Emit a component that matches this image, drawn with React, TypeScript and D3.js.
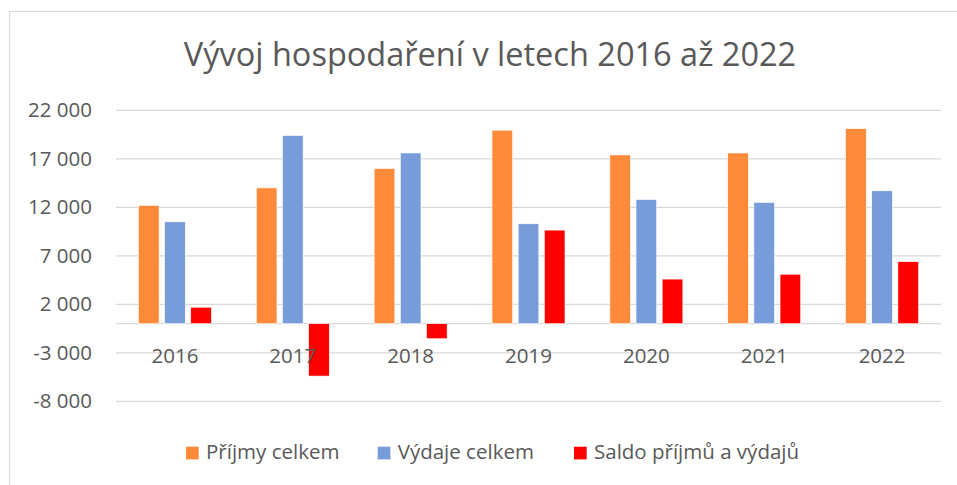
import React, { useEffect } from "react";
import * as d3 from "d3";

const years = ["2016", "2017", "2018", "2019", "2020", "2021", "2022"];
const prijmy = [12200, 14000, 16000, 19950, 17400, 17600, 20100];
const vydaje = [10500, 19400, 17600, 10300, 12800, 12500, 13700];
const saldo = [1700, -5400, -1550, 9650, 4600, 5100, 6400];
const seriesNames = ["Příjmy celkem", "Výdaje celkem", "Saldo příjmů a výdajů"];
const seriesColors = ["#FF8A3A", "#789BD9", "#FF0000"];
const yTicks = [-8000, -3000, 2000, 7000, 12000, 17000, 22000];
const title = "Vývoj hospodaření v letech 2016 až 2022";

const W = 957;
const H = 485;
const FONT = "'Open Sans', 'Noto Sans', sans-serif";
const TEXT = "#595959";

export default function App() {
  useEffect(() => {
    document.body.style.margin = "0";
  }, []);

  const x = d3.scaleBand<string>().domain(years).range([116, 941]).padding(0);
  const y = d3.scaleLinear().domain([-8000, 22000]).range([401.3, 110.3]);
  const groupW = 73;
  const inner = d3
    .scaleBand<string>()
    .domain(seriesNames)
    .range([0, groupW])
    .paddingInner(0.21)
    .paddingOuter(0);
  const series = [prijmy, vydaje, saldo];
  const fmt = (v: number) => {
    const s = d3.format(",")(Math.abs(v)).replace(/,/g, " ");
    return (v < 0 ? "-" : "") + s;
  };
  const legendX = [186, 377.7, 574];

  return (
    <svg width={W} height={H} style={{ display: "block" }} fontFamily={FONT}>
      <rect x={0} y={0} width={W} height={H} fill="#fff" />
      <rect x={9.5} y={11.5} width={1100} height={1000} fill="none" stroke="#D9D9D9" strokeWidth={1.2} />
      <text x={490} y={66} textAnchor="middle" fontSize={32.5} fill={TEXT}>
        {title}
      </text>
      {yTicks.map((t) => (
        <g key={t}>
          <line x1={116} x2={941} y1={y(t)} y2={y(t)} stroke="#D9D9D9" strokeWidth={1.3} />
          <text x={92} y={y(t)} dy="0.35em" textAnchor="end" fontSize={20.5} fill={TEXT}>
            {fmt(t)}
          </text>
        </g>
      ))}
      <line x1={116} x2={941} y1={y(0)} y2={y(0)} stroke="#D9D9D9" strokeWidth={1.3} />
      {years.map((yr, i) => {
        const cx = (x(yr) as number) + x.bandwidth() / 2;
        const gx = cx - groupW / 2;
        return (
          <g key={yr}>
            {series.map((s, k) => {
              const v = s[i];
              const y0 = y(0);
              const yv = y(v);
              return (
                <rect
                  key={k}
                  x={gx + (inner(seriesNames[k]) as number)}
                  y={Math.min(y0, yv)}
                  width={inner.bandwidth()}
                  height={Math.abs(yv - y0)}
                  fill={seriesColors[k]}
                  stroke="#fff"
                  strokeWidth={0.6}
                />
              );
            })}
            <text x={cx} y={362.7} textAnchor="middle" fontSize={20.5} fill={TEXT}>
              {yr}
            </text>
          </g>
        );
      })}
      {seriesNames.map((n, k) => (
        <g key={n}>
          <rect x={legendX[k]} y={446.7} width={12.7} height={12.7} fill={seriesColors[k]} />
          <text x={legendX[k] + 20} y={459.3} fontSize={20.5} fill={TEXT}>
            {n}
          </text>
        </g>
      ))}
    </svg>
  );
}
